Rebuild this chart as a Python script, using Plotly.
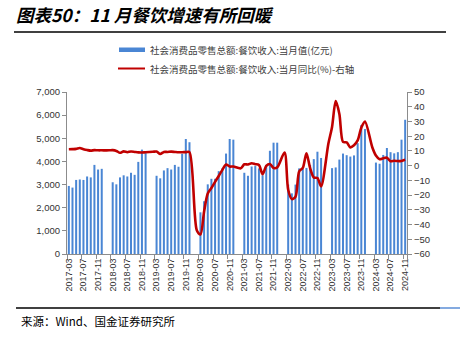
import plotly.graph_objects as go

# Monthly categories 2017-03 .. 2024-11 (January has no separate release)
months = []
for yr in range(2017, 2025):
    for m in range(1, 13):
        if (yr == 2017 and m < 3) or (yr == 2024 and m > 11):
            continue
        months.append(f"{yr}-{m:02d}")

N = None
# 社会消费品零售总额:餐饮收入:当月值 (亿元)
sales_2017 = [2940, 2870, 3200, 3220, 3200, 3350, 3310, 3850, 3650, 3680]
sales_2018 = [N, N, 3100, 3010, 3310, 3400, 3350, 3510, 3420, 3980, 4510, 4360]
sales_2019 = [N, N, 3380, 3270, 3610, 3710, 3650, 3850, 3770, 4330, 4970, 4830]
sales_2020 = [N, N, 1800, 2280, 3010, 3250, 3250, 3580, 3700, 4340, 4970, 4940]
sales_2021 = [N, N, 3510, 3380, 3780, 3800, 3700, 3400, 3850, 4460, 4810, 4810]
sales_2022 = [N, N, 3000, 2620, 3000, 3700, 3680, 3720, 3850, 4100, 4420, 4150]
sales_2023 = [N, N, 3710, 3740, 4080, 4340, 4270, 4210, 4260, 4790, 5570, 5400]
sales_2024 = [N, N, 3950, 3900, 4280, 4580, 4400, 4350, 4400, 4940, 5800]

# 社会消费品零售总额:餐饮收入:当月同比 (%)
yoy_2017 = [11.1, 11.2, 11.4, 12.0, 11.2, 10.6, 10.2, 10.5, 10.4, 10.4]
yoy_2018 = [N, 10.4, 10.5, 10.0, 8.7, 9.7, 9.1, 9.6, 9.3, 9.0, 8.9, 9.1]
yoy_2019 = [N, 9.4, 9.6, 7.9, 9.3, 9.3, 9.5, 9.3, 9.1, 9.1, 9.2, 9.2]
yoy_2020 = [N, -43.9, -46.8, -31.1, -18.9, -15.2, -11.0, -7.0, -2.9, 0.8, -0.6, -0.6]
yoy_2021 = [N, -1.8, 0.9, 0.8, 1.6, 1.0, 0.5, -5.8, -0.2, 1.1, -1.6, -1.2]
yoy_2022 = [N, 8.9, -16.4, -22.7, -21.1, -4.0, -1.5, 8.4, -1.7, -8.1, -8.4, -14.1]
yoy_2023 = [N, 15.0, 26.3, 43.8, 35.1, 16.1, 15.8, 12.4, 13.8, 17.1, 25.8, 30.0]
yoy_2024 = [N, 12.5, 6.9, 4.4, 5.0, 5.4, 3.0, 3.3, 3.1, 3.2, 4.0]

sales = (sales_2017 + sales_2018 + sales_2019 + sales_2020 + sales_2021
         + sales_2022 + sales_2023 + sales_2024)
yoy = (yoy_2017 + yoy_2018 + yoy_2019 + yoy_2020 + yoy_2021
       + yoy_2022 + yoy_2023 + yoy_2024)

tick_labels = months[::4]

bar_name = "社会消费品零售总额:餐饮收入:当月值(亿元)"
line_name = "社会消费品零售总额:餐饮收入:当月同比(%)-右轴"

BLUE = "#4A86D4"
RED = "#C00000"
AXIS = "#8C8C8C"
TXT = "#333333"
NUM_FONT = "Liberation Sans, Arial, sans-serif"
CJK_FONT = "Noto Sans CJK SC, sans-serif"

fig = go.Figure()
fig.add_trace(go.Bar(x=months, y=sales, name=bar_name, marker_color=BLUE,
                     marker_line_width=0, yaxis="y"))
fig.add_trace(go.Scatter(x=months, y=yoy, name=line_name, mode="lines",
                         line=dict(color=RED, width=2.6, shape="spline", smoothing=0.8),
                         connectgaps=True, yaxis="y2"))

W, H = 460, 337
L, R, T, B = 67, 53, 92, 83
pw, ph = W - L - R, H - T - B


def px(x):
    return (x - L) / pw


def py(y):
    return (H - B - y) / ph


fig.update_layout(
    width=W, height=H, autosize=False,
    margin=dict(l=L, r=R, t=T, b=B, pad=0),
    paper_bgcolor="white", plot_bgcolor="white",
    showlegend=False, bargap=0.45,
    font=dict(family=NUM_FONT, size=9, color=TXT),
    xaxis=dict(type="category", categoryorder="array", categoryarray=months,
               tickmode="array", tickvals=tick_labels, ticktext=tick_labels,
               tickangle=-90, ticks="outside", ticklen=4, tickcolor=AXIS,
               tickson="boundaries",
               showline=True, linecolor=AXIS, linewidth=1, showgrid=False,
               tickfont=dict(size=9, color=TXT, family=NUM_FONT)),
    yaxis=dict(range=[0, 7000], dtick=1000, tickformat=",", ticks="outside",
               ticklen=4, tickcolor=AXIS, showline=True, linecolor=AXIS,
               linewidth=1, showgrid=False, zeroline=False,
               tickfont=dict(size=9.5, color=TXT, family=NUM_FONT)),
    yaxis2=dict(range=[-60, 50], dtick=10, overlaying="y", side="right",
                ticks="outside", ticklen=4, tickcolor=AXIS, showline=True,
                linecolor=AXIS, linewidth=1, showgrid=False, zeroline=False,
                tickfont=dict(size=9.5, color=TXT, family=NUM_FONT)),
)

shapes = [
    # rule under the title
    dict(type="line", xref="paper", yref="paper", x0=px(14), x1=px(446),
         y0=py(32), y1=py(32), line=dict(color="black", width=1.5)),
    # rule above the source note
    dict(type="line", xref="paper", yref="paper", x0=px(16), x1=px(440),
         y0=py(308), y1=py(308), line=dict(color="black", width=1.5)),
    dict(type="line", xref="paper", yref="paper", x0=px(440), x1=px(460),
         y0=py(308), y1=py(308), line=dict(color="#5B8ED6", width=1.5)),
    # legend swatches
    dict(type="rect", xref="paper", yref="paper", x0=px(119), x1=px(145),
         y0=py(52), y1=py(47.5), fillcolor=BLUE, line=dict(width=0)),
    dict(type="line", xref="paper", yref="paper", x0=px(118), x1=px(145),
         y0=py(68.5), y1=py(68.5), line=dict(color=RED, width=2)),
]

annotations = [
    dict(text="<b><i>图表50：11 月餐饮增速有所回暖</i></b>", xref="paper", yref="paper",
         x=px(14), y=py(14), xanchor="left", yanchor="middle", showarrow=False,
         font=dict(family=CJK_FONT, size=17.5, color="black")),
    dict(text="来源：Wind、国金证券研究所", xref="paper", yref="paper",
         x=px(19), y=py(321), xanchor="left", yanchor="middle", showarrow=False,
         font=dict(family=CJK_FONT, size=11.5, color="black")),
    dict(text=bar_name, xref="paper", yref="paper", x=px(148), y=py(50),
         xanchor="left", yanchor="middle", showarrow=False,
         font=dict(family=CJK_FONT, size=9.5, color="#404040")),
    dict(text=line_name, xref="paper", yref="paper", x=px(148), y=py(68.5),
         xanchor="left", yanchor="middle", showarrow=False,
         font=dict(family=CJK_FONT, size=9.5, color="#404040")),
]

fig.update_layout(shapes=shapes, annotations=annotations)
fig.write_html("out.html")
